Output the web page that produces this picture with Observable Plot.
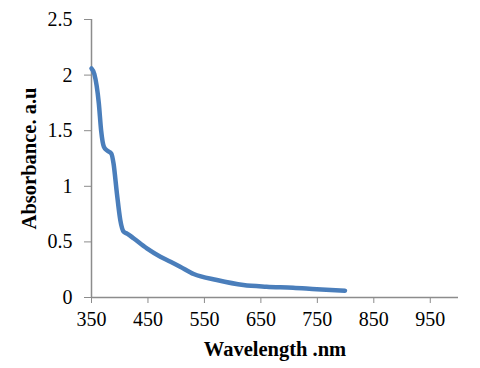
<!DOCTYPE html>
<html>
<head>
<meta charset="utf-8">
<script src="https://cdn.jsdelivr.net/npm/d3@7"></script>
<script src="https://cdn.jsdelivr.net/npm/@observablehq/plot@0.6"></script>
<style>
  body { margin: 0; background: #fff; }
  g[aria-label="x-axis label"] text, g[aria-label="y-axis label"] text { font-weight: bold; font-size: 20.5px; }
</style>
</head>
<body>
<div id="chart"></div>
<script>
const wavelength = [350, 355, 363, 367, 372, 378, 385, 389, 395, 401, 407, 413, 425, 448, 472, 490, 507, 531, 572, 619, 660, 707, 749, 799];
const absorbance = [2.06, 2.01, 1.745, 1.505, 1.355, 1.32, 1.295, 1.206, 0.936, 0.696, 0.591, 0.575, 0.53, 0.442, 0.367, 0.322, 0.277, 0.211, 0.157, 0.112, 0.097, 0.088, 0.074, 0.061];
const xTicks = [350, 450, 550, 650, 750, 850, 950];
const yTicks = [0, 0.5, 1, 1.5, 2, 2.5];

const data = wavelength.map((w, i) => ({w, a: absorbance[i]}));
const axisColor = "#8c8c8c";

const chart = Plot.plot({
  width: 480,
  height: 368,
  marginLeft: 91,
  marginRight: 22,
  marginTop: 19,
  marginBottom: 71,
  style: {fontFamily: "'Liberation Serif', 'Times New Roman', serif", fontSize: "20px", color: "black", background: "white"},
  x: {domain: [350, 1000]},
  y: {domain: [0, 2.5]},
  marks: [
    Plot.axisY({ticks: yTicks, tickFormat: d => String(d), tickSize: 7, tickPadding: 12, stroke: axisColor, fill: "black",
      label: "Absorbance. a.u", labelAnchor: "center", labelOffset: 70, labelArrow: "none"}),
    Plot.axisX({ticks: xTicks, tickFormat: d => String(d), tickSize: 6, tickPadding: 8, stroke: axisColor, fill: "black",
      label: "Wavelength .nm", labelAnchor: "center", labelOffset: 58, labelArrow: "none"}),
    Plot.ruleY([0], {stroke: axisColor, strokeWidth: 1.5}),
    Plot.ruleX([350], {stroke: axisColor, strokeWidth: 1.5}),
    Plot.lineY(data, {x: "w", y: "a", curve: "monotone-x", stroke: "#4a7ebb", strokeWidth: 4.5})
  ]
});
document.getElementById("chart").appendChild(chart);
</script>
</body>
</html>
